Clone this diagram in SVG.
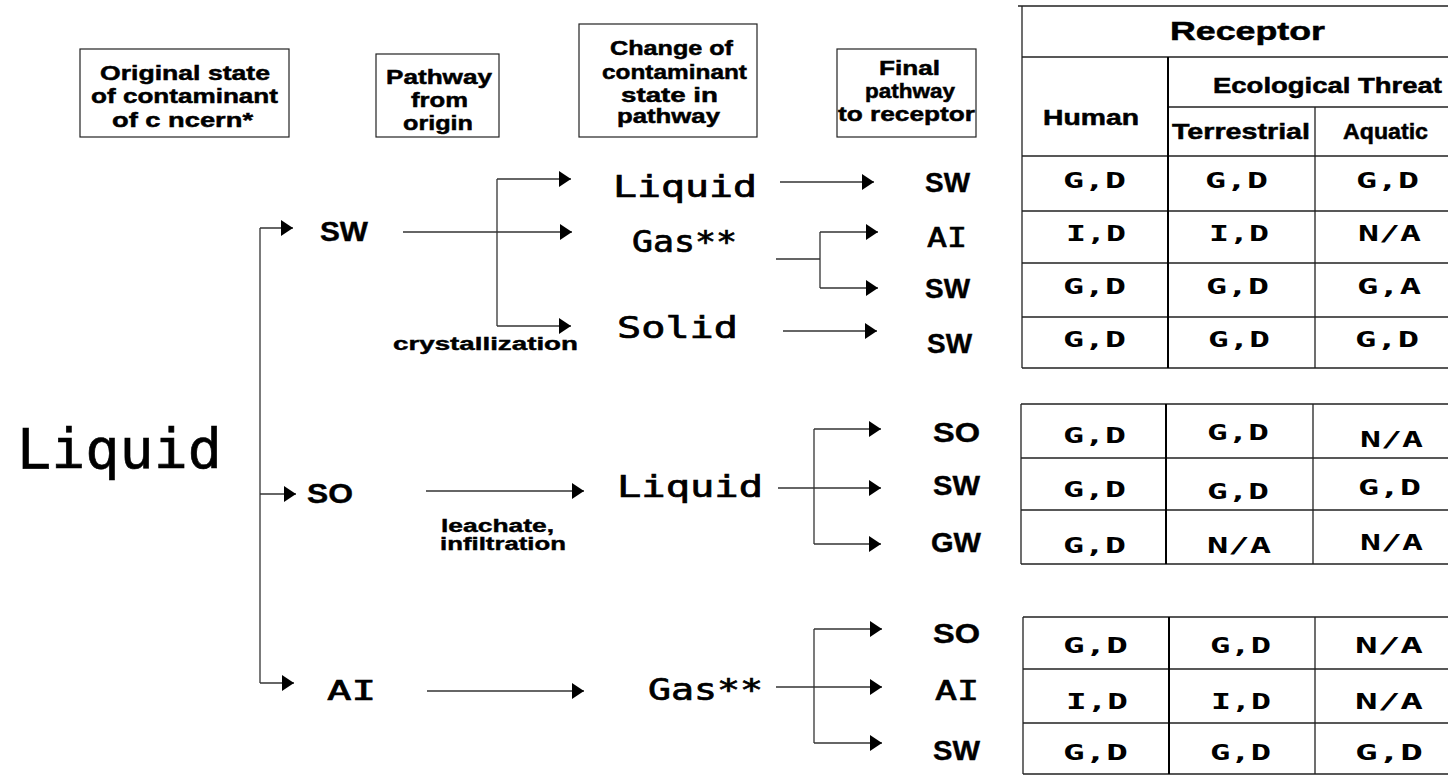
<svg xmlns="http://www.w3.org/2000/svg" width="1448" height="776" viewBox="0 0 1448 776">
<style>
.bg{fill:#fff}
.box{fill:#fff;stroke:#222;stroke-width:1.2}
.hdr{font-family:"Liberation Sans",Arial,sans-serif;font-weight:bold;font-size:21px;fill:#000;stroke:#000;stroke-width:0.5}
.th{font-family:"Liberation Sans",Arial,sans-serif;font-weight:bold;font-size:22px;fill:#000;stroke:#000;stroke-width:0.5}
.lbl{font-family:"Liberation Sans",Arial,sans-serif;font-weight:bold;font-size:27px;fill:#000;stroke:#000;stroke-width:0.4}
.sm{font-family:"Liberation Sans",Arial,sans-serif;font-weight:bold;font-size:18px;fill:#000;stroke:#000;stroke-width:0.4}
.mono{font-family:"DejaVu Sans Mono",monospace;font-size:30px;fill:#000;stroke:#000;stroke-width:0.7}
.cell{font-family:"DejaVu Sans Mono",monospace;font-weight:bold;font-size:22px;fill:#000}
.ln{fill:none;stroke:#333;stroke-width:1.3}
.arr{fill:none;stroke:#333;stroke-width:1.3;marker-end:url(#ah)}
.tl{fill:none;stroke:#222;stroke-width:1.3}
.tv{fill:none;stroke:#000;stroke-width:2}
</style>
<defs>
<marker id="ah" viewBox="0 0 12 16" refX="12" refY="8" markerWidth="12" markerHeight="16" markerUnits="userSpaceOnUse" orient="auto">
<path d="M0,0 L12,8 L0,16 z" fill="#000"/>
</marker>
</defs>
<rect class="bg" x="0" y="0" width="1448" height="776"/>

<g id="hdr-original">
<rect class="box" x="80" y="49" width="209" height="88"/>
<text class="hdr" x="100" y="80" textLength="170" lengthAdjust="spacingAndGlyphs">Original state</text>
<text class="hdr" x="91" y="103" textLength="187" lengthAdjust="spacingAndGlyphs">of contaminant</text>
<text class="hdr" x="112" y="127" textLength="141" lengthAdjust="spacingAndGlyphs">of c  ncern*</text>
</g>
<g id="hdr-pathway">
<rect class="box" x="376" y="54" width="123" height="83"/>
<text class="hdr" x="386" y="84" textLength="106" lengthAdjust="spacingAndGlyphs">Pathway</text>
<text class="hdr" x="411" y="107" textLength="57" lengthAdjust="spacingAndGlyphs">from</text>
<text class="hdr" x="403" y="130" textLength="70" lengthAdjust="spacingAndGlyphs">origin</text>
</g>
<g id="hdr-change">
<rect class="box" x="579" y="24" width="178" height="113"/>
<text class="hdr" x="610" y="55" textLength="123" lengthAdjust="spacingAndGlyphs">Change of</text>
<text class="hdr" x="602" y="79" textLength="145" lengthAdjust="spacingAndGlyphs">contaminant</text>
<text class="hdr" x="621" y="102" textLength="97" lengthAdjust="spacingAndGlyphs">state in</text>
<text class="hdr" x="617" y="123" textLength="103" lengthAdjust="spacingAndGlyphs">pathway</text>
</g>
<g id="hdr-final">
<rect class="box" x="837" y="49" width="139" height="88"/>
<text class="hdr" x="879" y="75" textLength="61" lengthAdjust="spacingAndGlyphs">Final</text>
<text class="hdr" x="865" y="98" textLength="90" lengthAdjust="spacingAndGlyphs">pathway</text>
<text class="hdr" x="838" y="121" textLength="137" lengthAdjust="spacingAndGlyphs">to receptor</text>
</g>

<g id="origin-liquid">
<text class="mono" x="17" y="468" style="font-size:55px;stroke-width:0.6" textLength="205" lengthAdjust="spacingAndGlyphs">Liquid</text>
</g>

<g id="path-sw"><text class="lbl" x="320" y="241" textLength="48" lengthAdjust="spacingAndGlyphs">SW</text></g>
<g id="path-so"><text class="lbl" x="307" y="503" textLength="46" lengthAdjust="spacingAndGlyphs">SO</text></g>
<g id="path-ai"><text class="mono" x="327" y="700" style="font-size:27px" textLength="49" lengthAdjust="spacingAndGlyphs">AI</text></g>

<g id="state-liquid1"><text class="mono" x="613" y="197" textLength="144" lengthAdjust="spacingAndGlyphs">Liquid</text></g>
<g id="state-gas1"><text class="mono" x="632" y="252" textLength="105" lengthAdjust="spacingAndGlyphs">Gas**</text></g>
<g id="state-solid1"><text class="mono" x="617" y="338" textLength="121" lengthAdjust="spacingAndGlyphs">Solid</text></g>
<g id="label-cryst"><text class="sm" x="393" y="350" textLength="185" lengthAdjust="spacingAndGlyphs">crystallization</text></g>
<g id="state-liquid2"><text class="mono" x="617" y="497" textLength="146" lengthAdjust="spacingAndGlyphs">Liquid</text></g>
<g id="label-leach">
<text class="sm" x="441" y="532" textLength="113" lengthAdjust="spacingAndGlyphs">leachate,</text>
<text class="sm" x="440" y="550" textLength="126" lengthAdjust="spacingAndGlyphs">infiltration</text>
</g>
<g id="state-gas3"><text class="mono" x="648" y="700" textLength="115" lengthAdjust="spacingAndGlyphs">Gas**</text></g>

<g id="final-1">
<text class="lbl" x="925" y="192" textLength="45" lengthAdjust="spacingAndGlyphs">SW</text>
<text class="mono" x="927" y="247" style="font-size:27px" textLength="40" lengthAdjust="spacingAndGlyphs">AI</text>
<text class="lbl" x="925" y="298" textLength="45" lengthAdjust="spacingAndGlyphs">SW</text>
<text class="lbl" x="927" y="353" textLength="45" lengthAdjust="spacingAndGlyphs">SW</text>
</g>
<g id="final-2">
<text class="lbl" x="933" y="442" textLength="47" lengthAdjust="spacingAndGlyphs">SO</text>
<text class="lbl" x="933" y="495" textLength="47" lengthAdjust="spacingAndGlyphs">SW</text>
<text class="lbl" x="931" y="552" textLength="50" lengthAdjust="spacingAndGlyphs">GW</text>
</g>
<g id="final-3">
<text class="lbl" x="933" y="643" textLength="47" lengthAdjust="spacingAndGlyphs">SO</text>
<text class="mono" x="935" y="700" style="font-size:27px" textLength="44" lengthAdjust="spacingAndGlyphs">AI</text>
<text class="lbl" x="933" y="760" textLength="47" lengthAdjust="spacingAndGlyphs">SW</text>
</g>

<g id="connectors">
<path class="ln" d="M260,228 V683"/>
<path class="arr" d="M260,228 H293"/>
<path class="arr" d="M260,494 H296"/>
<path class="arr" d="M260,683 H294"/>
<path class="arr" d="M403,232 H572"/>
<path class="ln" d="M497,179 V326"/>
<path class="arr" d="M497,179 H571"/>
<path class="arr" d="M497,326 H571"/>
<path class="arr" d="M780,182 H874"/>
<path class="ln" d="M776,259 H820 M820,232 V288"/>
<path class="arr" d="M820,232 H878"/>
<path class="arr" d="M820,288 H878"/>
<path class="arr" d="M783,331 H877"/>
<path class="arr" d="M426,491 H584"/>
<path class="arr" d="M778,488 H881"/>
<path class="ln" d="M814,429 V544"/>
<path class="arr" d="M814,429 H881"/>
<path class="arr" d="M814,544 H881"/>
<path class="arr" d="M427,691 H584"/>
<path class="arr" d="M776,687 H882"/>
<path class="ln" d="M814,629 V743"/>
<path class="arr" d="M814,629 H882"/>
<path class="arr" d="M814,743 H882"/>
</g>

<g id="table-1">
<path class="tl" d="M1018,6 H1448 M1022,57 H1448 M1168,107 H1448 M1022,156 H1448 M1022,211 H1448 M1022,263 H1448 M1022,317 H1448 M1022,368 H1448"/>
<path class="tl" d="M1022,6 V368 M1315,107 V368"/>
<path class="tv" d="M1168,57 V368"/>
<text class="th" x="1170" y="40" style="font-size:26px" textLength="155" lengthAdjust="spacingAndGlyphs">Receptor</text>
<text class="th" x="1043" y="125" textLength="96" lengthAdjust="spacingAndGlyphs">Human</text>
<text class="th" x="1213" y="93" textLength="229" lengthAdjust="spacingAndGlyphs">Ecological Threat</text>
<text class="th" x="1172" y="139" textLength="138" lengthAdjust="spacingAndGlyphs">Terrestrial</text>
<text class="th" x="1343" y="139" textLength="85" lengthAdjust="spacingAndGlyphs">Aquatic</text>
<text class="cell" x="1063" y="188" textLength="63" lengthAdjust="spacingAndGlyphs">G,D</text>
<text class="cell" x="1205" y="188" textLength="63" lengthAdjust="spacingAndGlyphs">G,D</text>
<text class="cell" x="1356" y="188" textLength="63" lengthAdjust="spacingAndGlyphs">G,D</text>
<text class="cell" x="1066" y="241" textLength="60" lengthAdjust="spacingAndGlyphs">I,D</text>
<text class="cell" x="1209" y="241" textLength="60" lengthAdjust="spacingAndGlyphs">I,D</text>
<text class="cell" x="1358" y="241" textLength="63" lengthAdjust="spacingAndGlyphs">N/A</text>
<text class="cell" x="1063" y="294" textLength="63" lengthAdjust="spacingAndGlyphs">G,D</text>
<text class="cell" x="1206" y="294" textLength="63" lengthAdjust="spacingAndGlyphs">G,D</text>
<text class="cell" x="1357" y="294" textLength="64" lengthAdjust="spacingAndGlyphs">G,A</text>
<text class="cell" x="1063" y="347" textLength="63" lengthAdjust="spacingAndGlyphs">G,D</text>
<text class="cell" x="1208" y="347" textLength="62" lengthAdjust="spacingAndGlyphs">G,D</text>
<text class="cell" x="1355" y="347" textLength="64" lengthAdjust="spacingAndGlyphs">G,D</text>
</g>

<g id="table-2">
<path class="tl" d="M1021,404 H1448 M1021,458 H1448 M1021,510 H1448 M1021,564 H1448 M1021,404 V564 M1313,404 V564"/>
<path class="tv" d="M1166,404 V564"/>
<text class="cell" x="1063" y="443" textLength="63" lengthAdjust="spacingAndGlyphs">G,D</text>
<text class="cell" x="1207" y="440" textLength="62" lengthAdjust="spacingAndGlyphs">G,D</text>
<text class="cell" x="1360" y="447" textLength="63" lengthAdjust="spacingAndGlyphs">N/A</text>
<text class="cell" x="1063" y="497" textLength="63" lengthAdjust="spacingAndGlyphs">G,D</text>
<text class="cell" x="1207" y="499" textLength="62" lengthAdjust="spacingAndGlyphs">G,D</text>
<text class="cell" x="1358" y="495" textLength="63" lengthAdjust="spacingAndGlyphs">G,D</text>
<text class="cell" x="1063" y="553" textLength="63" lengthAdjust="spacingAndGlyphs">G,D</text>
<text class="cell" x="1207" y="553" textLength="64" lengthAdjust="spacingAndGlyphs">N/A</text>
<text class="cell" x="1360" y="550" textLength="63" lengthAdjust="spacingAndGlyphs">N/A</text>
</g>

<g id="table-3">
<path class="tl" d="M1023,617 H1448 M1023,669 H1448 M1023,723 H1448 M1023,774 H1448 M1023,617 V774 M1315,617 V774"/>
<path class="tv" d="M1169,617 V774"/>
<text class="cell" x="1063" y="653" textLength="65" lengthAdjust="spacingAndGlyphs">G,D</text>
<text class="cell" x="1210" y="653" textLength="61" lengthAdjust="spacingAndGlyphs">G,D</text>
<text class="cell" x="1355" y="653" textLength="68" lengthAdjust="spacingAndGlyphs">N/A</text>
<text class="cell" x="1066" y="709" textLength="62" lengthAdjust="spacingAndGlyphs">I,D</text>
<text class="cell" x="1211" y="709" textLength="60" lengthAdjust="spacingAndGlyphs">I,D</text>
<text class="cell" x="1355" y="709" textLength="68" lengthAdjust="spacingAndGlyphs">N/A</text>
<text class="cell" x="1063" y="760" textLength="65" lengthAdjust="spacingAndGlyphs">G,D</text>
<text class="cell" x="1210" y="760" textLength="61" lengthAdjust="spacingAndGlyphs">G,D</text>
<text class="cell" x="1355" y="760" textLength="68" lengthAdjust="spacingAndGlyphs">G,D</text>
</g>
</svg>
